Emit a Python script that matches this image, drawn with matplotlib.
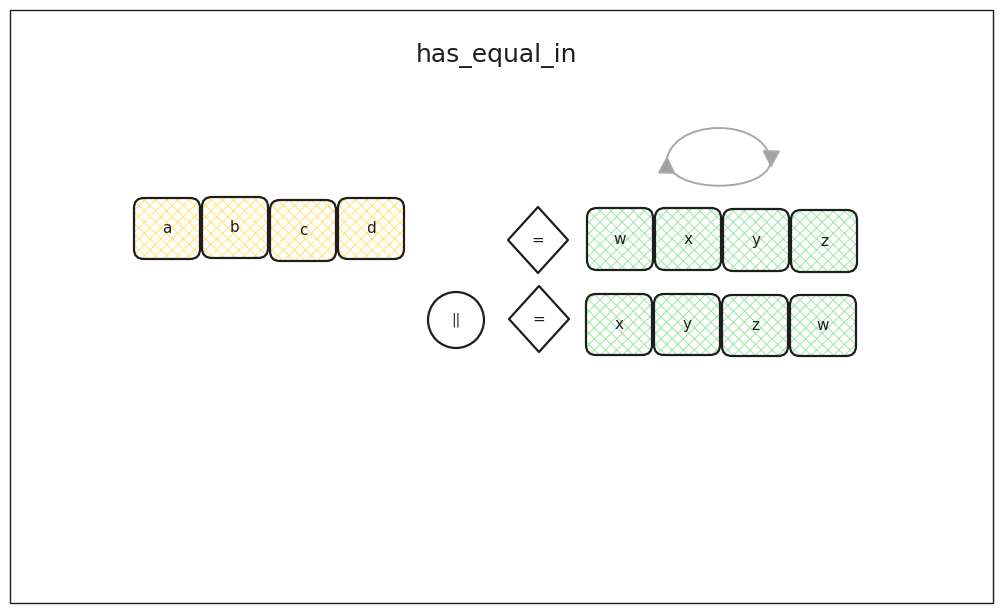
import matplotlib
matplotlib.use('Agg')
import matplotlib.pyplot as plt
from matplotlib.patches import FancyBboxPatch, Polygon, Circle, Rectangle, FancyArrowPatch
from matplotlib.path import Path

# diagram content
title = "has_equal_in"
left_labels = ["a", "b", "c", "d"]
right_row1 = ["w", "x", "y", "z"]
right_row2 = ["x", "y", "z", "w"]
diamond_labels = ["=", "="]
circle_label = "||"

INK = "#1e1e1e"
YELLOW = "#ffe680"
GREEN = "#a6e8b0"

plt.rcParams['hatch.linewidth'] = 0.8

fig = plt.figure(figsize=(10.04, 6.13), dpi=100)
ax = fig.add_axes([0, 0, 1, 1])
ax.set_xlim(0, 1004)
ax.set_ylim(613, 0)
ax.axis('off')


def box(x, y, w, h, label, fill):
    # hatch layer then the outline on top
    ax.add_patch(FancyBboxPatch((x, y), w, h, boxstyle="round,pad=0,rounding_size=10",
                                facecolor='white', edgecolor=fill, hatch='xxx', lw=0.1))
    ax.add_patch(FancyBboxPatch((x, y), w, h, boxstyle="round,pad=0,rounding_size=10",
                                facecolor='none', edgecolor=INK, lw=1.6))
    ax.text(x + w / 2, y + h / 2, label, ha='center', va='center',
            fontsize=11, color=INK)


def row(x0, y0, labels, fill, jitter, w=66, h=61, step=68):
    for i, lab in enumerate(labels):
        box(x0 + i * step, y0 + jitter[i], w, h, lab, fill)


# outer frame
ax.add_patch(Rectangle((10, 10), 983, 593, facecolor='none', edgecolor=INK, lw=1.0))

ax.text(497, 55, title, ha='center', va='center', fontsize=18, color=INK)

row(134, 198, left_labels, YELLOW, [0, -1, 2, 0])
row(587, 208, right_row1, GREEN, [0, 0, 1, 2], h=62)
row(586, 294, right_row2, GREEN, [0, 0, 1, 1])

# diamonds
for (cx, cy), lab in zip([(538, 240), (539, 319)], diamond_labels):
    ax.add_patch(Polygon([(cx - 30, cy), (cx, cy - 33), (cx + 30, cy), (cx, cy + 33)],
                         closed=True, facecolor='none', edgecolor=INK, lw=1.6,
                         joinstyle='round'))
    ax.text(cx, cy, lab, ha='center', va='center', fontsize=11, color=INK)

# circle
ax.add_patch(Circle((456, 320), 28, facecolor='none', edgecolor=INK, lw=1.6))
ax.text(456, 320, circle_label, ha='center', va='center', fontsize=10, color=INK)

# rotation loop
top = Path([(666, 168), (664, 115), (772, 115), (771, 168)],
           [Path.MOVETO, Path.CURVE4, Path.CURVE4, Path.CURVE4])
bottom = Path([(771, 158), (773, 195), (666, 195), (667, 156)],
              [Path.MOVETO, Path.CURVE4, Path.CURVE4, Path.CURVE4])
for p in (top, bottom):
    ax.add_patch(FancyArrowPatch(path=p, arrowstyle='-|>,head_length=7,head_width=3.6',
                                 facecolor='#a0a0a0', edgecolor='#a8a8a8', lw=1.4,
                                 mutation_scale=1.5, shrinkA=0, shrinkB=0))

plt.savefig('out.png', dpi=100)
plt.close()
